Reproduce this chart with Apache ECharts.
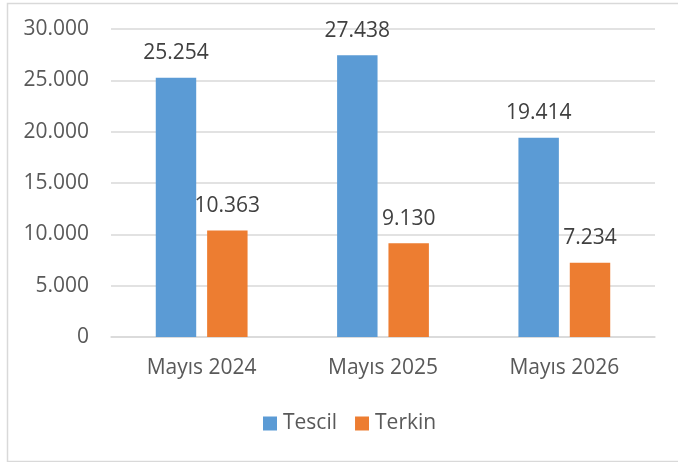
<!DOCTYPE html>
<html><head><meta charset="utf-8">
<script src="https://cdn.jsdelivr.net/npm/echarts@6/dist/echarts.min.js"></script>
<style>html,body{margin:0;padding:0;background:#fff}#c{width:678px;height:462px}</style>
</head><body><div id="c"></div>
<script>
const categories = ['Mayıs 2024', 'Mayıs 2025', 'Mayıs 2026'];
const tescil = [25254, 27438, 19414];
const terkin = [10363, 9130, 7234];
const seriesNames = ['Tescil', 'Terkin'];

const FONT = '"Open Sans", sans-serif';
const TXT = '#595959';
const fmt = v => String(v).replace(/\B(?=(\d{3})+(?!\d))/g, '.');

const chart = echarts.init(document.getElementById('c'), null, {renderer: 'canvas'});
chart.setOption({
  animation: false,
  backgroundColor: '#fff',
  graphic: [{
    type: 'rect', left: 5, top: 1,
    shape: {width: 700, height: 458},
    style: {fill: 'none', stroke: '#d9d9d9', lineWidth: 1.5},
    silent: true
  }],
  grid: {left: 111, right: 23, top: 29, bottom: 125},
  legend: {
    top: 413, left: 263, padding: 0,
    itemWidth: 14, itemHeight: 14, itemGap: 18,
    icon: 'rect',
    textStyle: {fontFamily: FONT, fontSize: 21, color: TXT, padding: [0, 0, 0, 1]},
    data: seriesNames
  },
  xAxis: {
    type: 'category', data: categories,
    axisLine: {lineStyle: {color: '#d9d9d9', width: 1.5}},
    axisTick: {show: false},
    axisLabel: {fontFamily: FONT, fontSize: 21, color: TXT, margin: 21}
  },
  yAxis: {
    type: 'value', min: 0, max: 30000, interval: 5000,
    axisLine: {show: false}, axisTick: {show: false},
    splitLine: {lineStyle: {color: '#d9d9d9', width: 1.5}},
    axisLabel: {fontFamily: FONT, fontSize: 21, color: TXT, margin: 22, formatter: v => fmt(v)}
  },
  series: [
    {
      name: seriesNames[0], type: 'bar', data: tescil,
      barWidth: '22.3%', barGap: '27%',
      itemStyle: {color: '#5B9BD5'},
      label: {show: true, position: 'top', distance: 14, fontFamily: FONT, fontSize: 21, color: '#404040', formatter: p => fmt(p.value)}
    },
    {
      name: seriesNames[1], type: 'bar', data: terkin,
      barWidth: '22.3%', barGap: '27%',
      itemStyle: {color: '#ED7D31'},
      label: {show: true, position: 'top', distance: 14, fontFamily: FONT, fontSize: 21, color: '#404040', formatter: p => fmt(p.value)}
    }
  ]
});
</script></body></html>
